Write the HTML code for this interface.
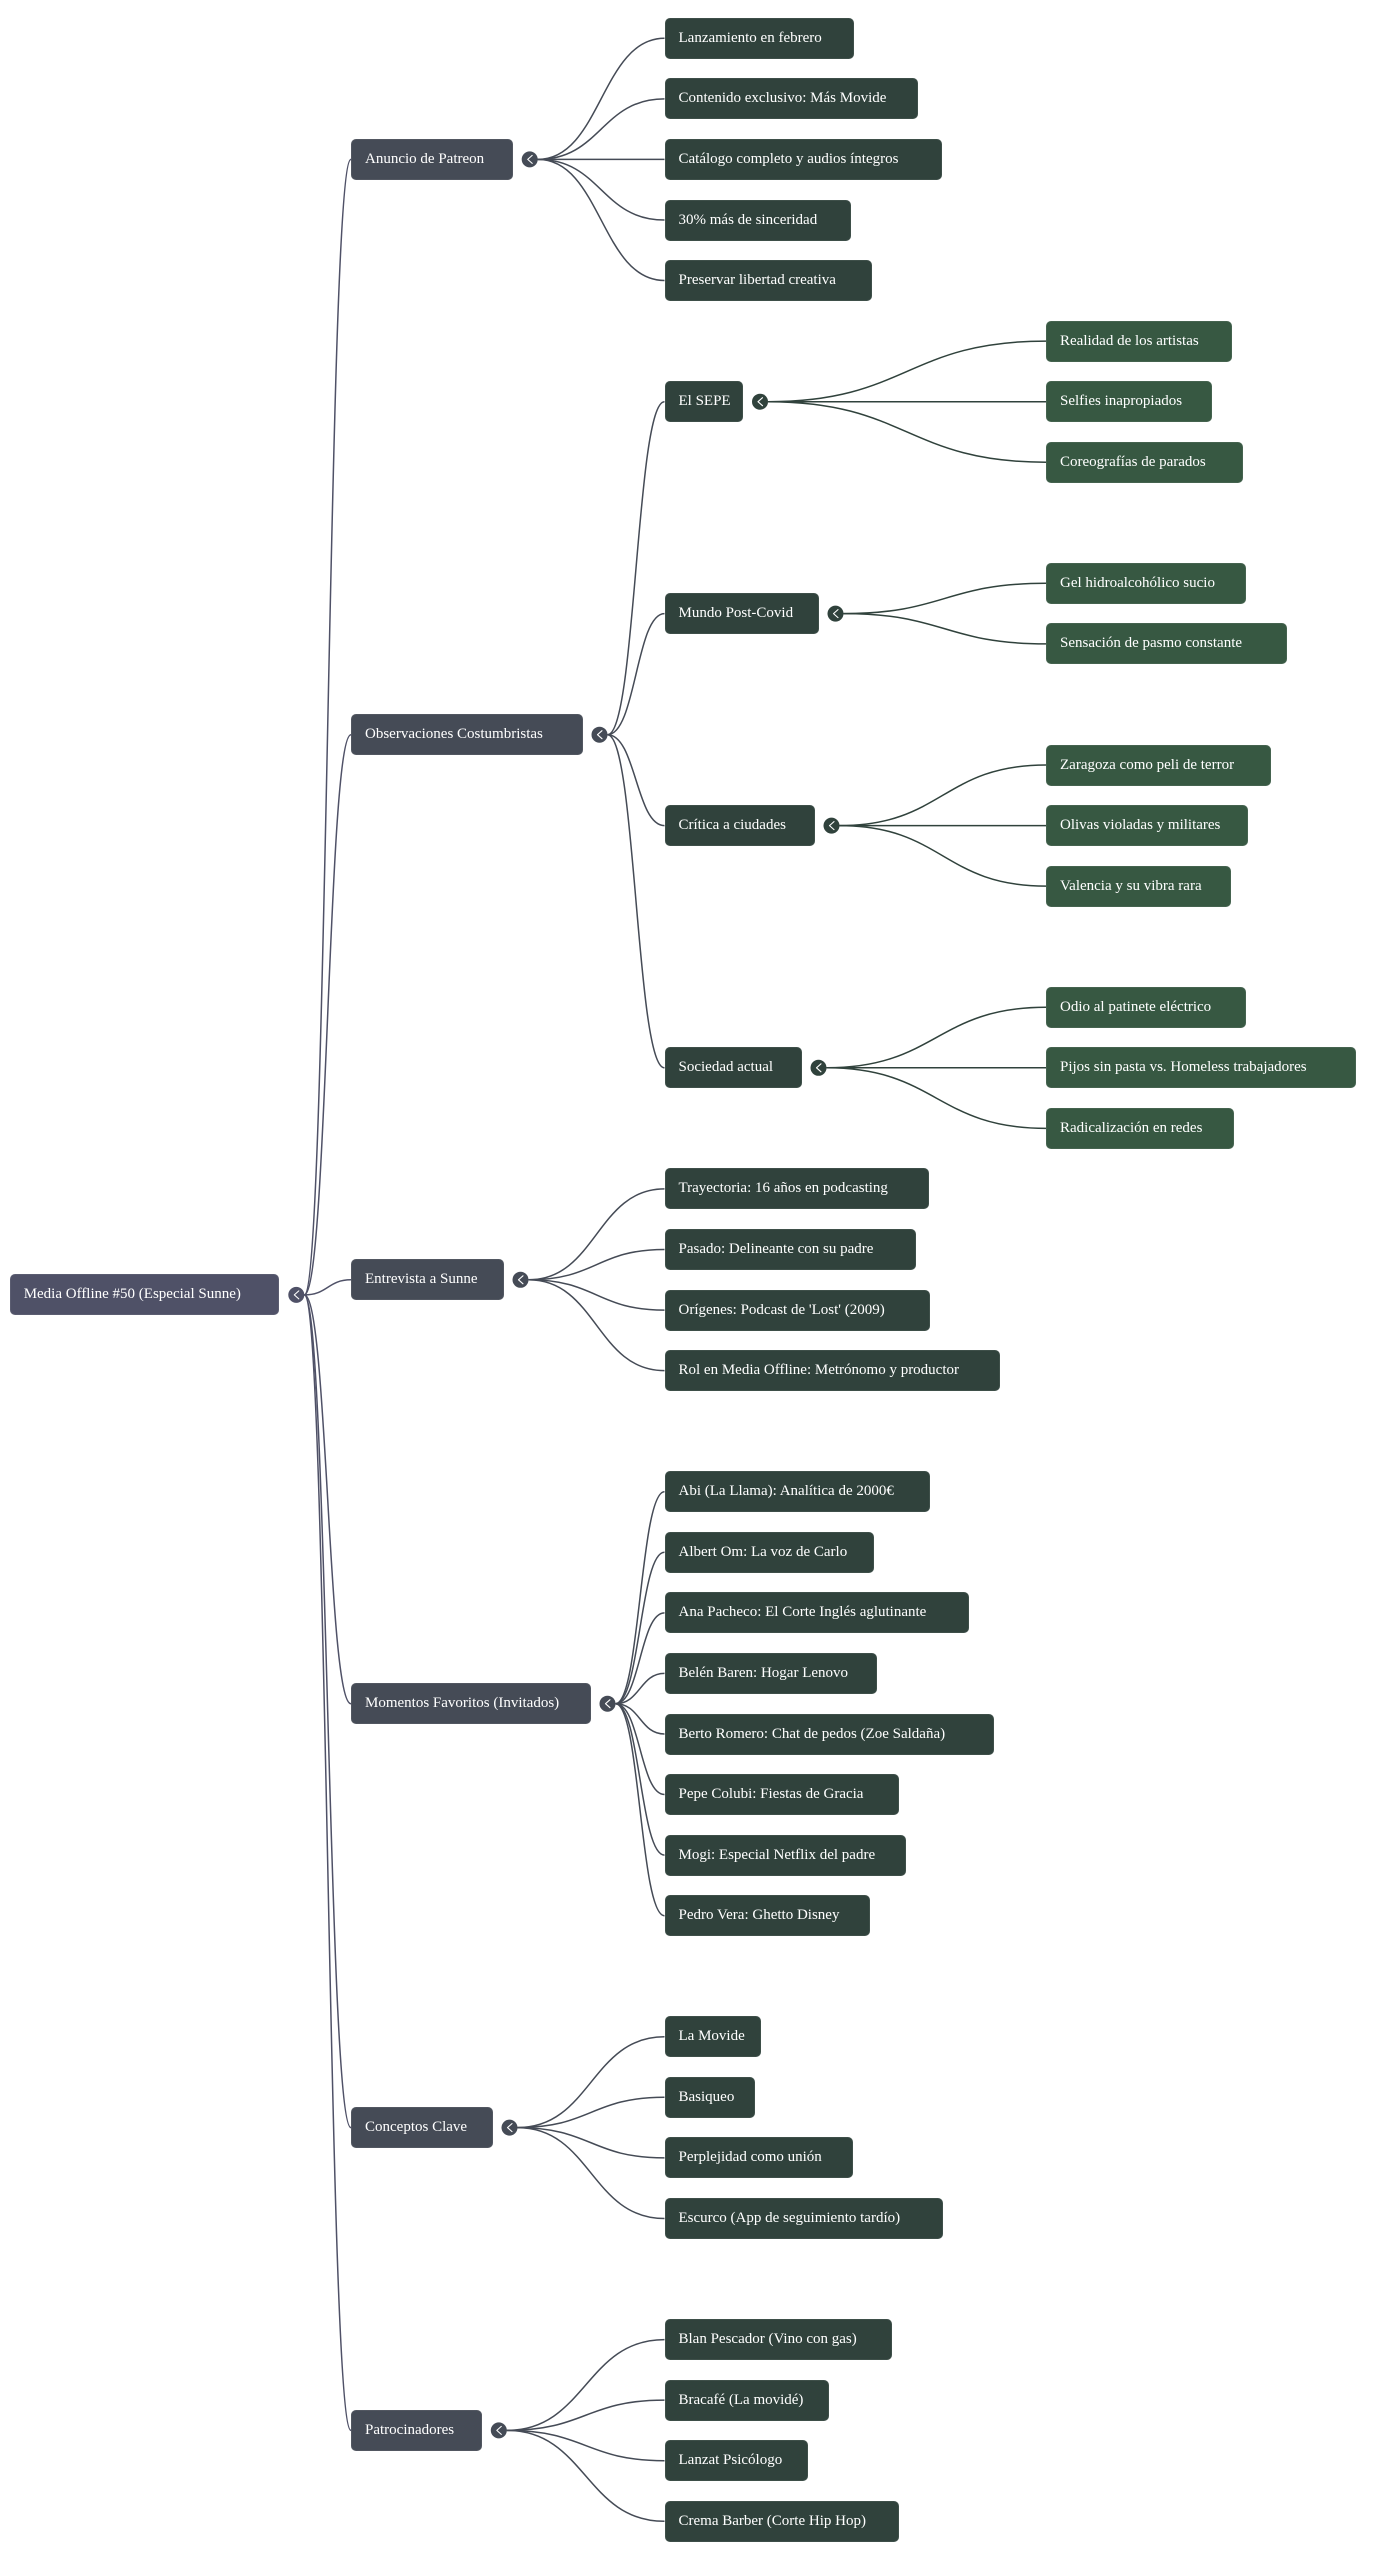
<!DOCTYPE html>
<html><head><meta charset="utf-8">
<style>
html,body{margin:0;padding:0;background:#fff;}
#w{position:relative;width:1391px;height:2560px;overflow:hidden;background:#fff;}
svg{position:absolute;left:0;top:0;}
.n{position:absolute;height:41px;border-radius:5px;color:#fff;font-family:"Liberation Serif",serif;font-size:15px;line-height:41px;padding-left:14px;box-sizing:border-box;white-space:nowrap;box-shadow:inset 0 0 0 1px rgba(255,255,255,0.07);}
.r{background:#4f5167;}
.a{background:#454b56;}
.b{background:#30423c;}
.g{background:#375842;}
</style></head><body><div id="w">
<svg width="1391" height="2560" viewBox="0 0 1391 2560">
<g fill="none" stroke-width="1.5">
<g stroke="#4f5167">
<path d="M304.3 1294.9 C327.7 1294.9 327.7 159.4 351 159.4"/>
<path d="M304.3 1294.9 C327.7 1294.9 327.7 734.7 351 734.7"/>
<path d="M304.3 1294.9 C327.7 1294.9 327.7 1279.8 351 1279.8"/>
<path d="M304.3 1294.9 C327.7 1294.9 327.7 1703.7 351 1703.7"/>
<path d="M304.3 1294.9 C327.7 1294.9 327.7 2127.6 351 2127.6"/>
<path d="M304.3 1294.9 C327.7 1294.9 327.7 2430.4 351 2430.4"/>
</g>
<g stroke="#454b56">
<path d="M537.7 159.4 C601.1 159.4 601.1 38.3 664.5 38.3"/>
<path d="M537.7 159.4 C601.1 159.4 601.1 98.9 664.5 98.9"/>
<path d="M537.7 159.4 C601.1 159.4 601.1 159.4 664.5 159.4"/>
<path d="M537.7 159.4 C601.1 159.4 601.1 220 664.5 220"/>
<path d="M537.7 159.4 C601.1 159.4 601.1 280.5 664.5 280.5"/>

<path d="M607.5 734.7 C636 734.7 636 401.7 664.5 401.7"/>
<path d="M607.5 734.7 C636 734.7 636 613.6 664.5 613.6"/>
<path d="M607.5 734.7 C636 734.7 636 825.6 664.5 825.6"/>
<path d="M607.5 734.7 C636 734.7 636 1067.8 664.5 1067.8"/>

<path d="M528.5 1279.8 C596.5 1279.8 596.5 1188.9 664.5 1188.9"/>
<path d="M528.5 1279.8 C596.5 1279.8 596.5 1249.5 664.5 1249.5"/>
<path d="M528.5 1279.8 C596.5 1279.8 596.5 1310.1 664.5 1310.1"/>
<path d="M528.5 1279.8 C596.5 1279.8 596.5 1370.6 664.5 1370.6"/>

<path d="M615.5 1703.7 C640 1703.7 640 1491.7 664.5 1491.7"/>
<path d="M615.5 1703.7 C640 1703.7 640 1552.3 664.5 1552.3"/>
<path d="M615.5 1703.7 C640 1703.7 640 1612.9 664.5 1612.9"/>
<path d="M615.5 1703.7 C640 1703.7 640 1673.4 664.5 1673.4"/>
<path d="M615.5 1703.7 C640 1703.7 640 1734 664.5 1734"/>
<path d="M615.5 1703.7 C640 1703.7 640 1794.5 664.5 1794.5"/>
<path d="M615.5 1703.7 C640 1703.7 640 1855.1 664.5 1855.1"/>
<path d="M615.5 1703.7 C640 1703.7 640 1915.7 664.5 1915.7"/>

<path d="M517.5 2127.6 C591 2127.6 591 2036.8 664.5 2036.8"/>
<path d="M517.5 2127.6 C591 2127.6 591 2097.3 664.5 2097.3"/>
<path d="M517.5 2127.6 C591 2127.6 591 2157.9 664.5 2157.9"/>
<path d="M517.5 2127.6 C591 2127.6 591 2218.5 664.5 2218.5"/>

<path d="M506.8 2430.4 C585.7 2430.4 585.7 2339.6 664.5 2339.6"/>
<path d="M506.8 2430.4 C585.7 2430.4 585.7 2400.1 664.5 2400.1"/>
<path d="M506.8 2430.4 C585.7 2430.4 585.7 2460.7 664.5 2460.7"/>
<path d="M506.8 2430.4 C585.7 2430.4 585.7 2521.3 664.5 2521.3"/>
</g>
<g stroke="#30423c">
<path d="M768 401.7 C907 401.7 907 341.1 1046 341.1"/>
<path d="M768 401.7 C907 401.7 907 401.7 1046 401.7"/>
<path d="M768 401.7 C907 401.7 907 462.2 1046 462.2"/>

<path d="M843.5 613.6 C944.8 613.6 944.8 583.3 1046 583.3"/>
<path d="M843.5 613.6 C944.8 613.6 944.8 643.9 1046 643.9"/>

<path d="M839.5 825.6 C942.8 825.6 942.8 765 1046 765"/>
<path d="M839.5 825.6 C942.8 825.6 942.8 825.6 1046 825.6"/>
<path d="M839.5 825.6 C942.8 825.6 942.8 886.1 1046 886.1"/>

<path d="M826.5 1067.8 C936.3 1067.8 936.3 1007.3 1046 1007.3"/>
<path d="M826.5 1067.8 C936.3 1067.8 936.3 1067.8 1046 1067.8"/>
<path d="M826.5 1067.8 C936.3 1067.8 936.3 1128.4 1046 1128.4"/>
</g>
</g>
<g>
<circle cx="296.3" cy="1294.9" r="8" fill="#4f5167"/>
<circle cx="529.7" cy="159.4" r="8" fill="#454b56"/>
<circle cx="599.5" cy="734.7" r="8" fill="#454b56"/>
<circle cx="520.5" cy="1279.8" r="8" fill="#454b56"/>
<circle cx="607.5" cy="1703.7" r="8" fill="#454b56"/>
<circle cx="509.5" cy="2127.6" r="8" fill="#454b56"/>
<circle cx="498.8" cy="2430.4" r="8" fill="#454b56"/>
<circle cx="760" cy="401.7" r="8" fill="#30423c"/>
<circle cx="835.5" cy="613.6" r="8" fill="#30423c"/>
<circle cx="831.5" cy="825.6" r="8" fill="#30423c"/>
<circle cx="818.5" cy="1067.8" r="8" fill="#30423c"/>
</g>
<g fill="none" stroke="#ffffff" stroke-width="1.1" stroke-linecap="round" stroke-linejoin="round">
<path d="M298.8 1290.9 L294.3 1294.9 L298.8 1298.9"/>
<path d="M532.2 155.4 L527.7 159.4 L532.2 163.4"/>
<path d="M602 730.7 L597.5 734.7 L602 738.7"/>
<path d="M523 1275.8 L518.5 1279.8 L523 1283.8"/>
<path d="M610 1699.7 L605.5 1703.7 L610 1707.7"/>
<path d="M512 2123.6 L507.5 2127.6 L512 2131.6"/>
<path d="M501.3 2426.4 L496.8 2430.4 L501.3 2434.4"/>
<path d="M762.5 397.7 L758 401.7 L762.5 405.7"/>
<path d="M838 609.6 L833.5 613.6 L838 617.6"/>
<path d="M834 821.6 L829.5 825.6 L834 829.6"/>
<path d="M821 1063.8 L816.5 1067.8 L821 1071.8"/>
</g>
</svg>

<div class="n r" style="left:9.7px;top:1274.4px;width:269.6px;">Media Offline #50 (Especial Sunne)</div>

<div class="n a" style="left:351px;top:138.9px;width:161.7px;">Anuncio de Patreon</div>
<div class="n a" style="left:351px;top:714.2px;width:231.5px;">Observaciones Costumbristas</div>
<div class="n a" style="left:351px;top:1259.3px;width:152.5px;">Entrevista a Sunne</div>
<div class="n a" style="left:351px;top:1683.2px;width:239.5px;">Momentos Favoritos (Invitados)</div>
<div class="n a" style="left:351px;top:2107.1px;width:141.5px;">Conceptos Clave</div>
<div class="n a" style="left:351px;top:2409.9px;width:130.8px;">Patrocinadores</div>

<div class="n b" style="left:664.5px;top:17.8px;width:189.5px;">Lanzamiento en febrero</div>
<div class="n b" style="left:664.5px;top:78.4px;width:253.5px;">Contenido exclusivo: Más Movide</div>
<div class="n b" style="left:664.5px;top:138.9px;width:277px;">Catálogo completo y audios íntegros</div>
<div class="n b" style="left:664.5px;top:199.5px;width:186.5px;">30% más de sinceridad</div>
<div class="n b" style="left:664.5px;top:260px;width:207px;">Preservar libertad creativa</div>
<div class="n b" style="left:664.5px;top:381.2px;width:78.5px;">El SEPE</div>
<div class="n b" style="left:664.5px;top:593.1px;width:154px;">Mundo Post-Covid</div>
<div class="n b" style="left:664.5px;top:805.1px;width:150px;">Crítica a ciudades</div>
<div class="n b" style="left:664.5px;top:1047.3px;width:137px;">Sociedad actual</div>
<div class="n b" style="left:664.5px;top:1168.4px;width:264.2px;">Trayectoria: 16 años en podcasting</div>
<div class="n b" style="left:664.5px;top:1229px;width:251.5px;">Pasado: Delineante con su padre</div>
<div class="n b" style="left:664.5px;top:1289.6px;width:265.8px;">Orígenes: Podcast de 'Lost' (2009)</div>
<div class="n b" style="left:664.5px;top:1350.1px;width:335.8px;">Rol en Media Offline: Metrónomo y productor</div>
<div class="n b" style="left:664.5px;top:1471.2px;width:265.8px;">Abi (La Llama): Analítica de 2000€</div>
<div class="n b" style="left:664.5px;top:1531.8px;width:209.8px;">Albert Om: La voz de Carlo</div>
<div class="n b" style="left:664.5px;top:1592.4px;width:304.2px;">Ana Pacheco: El Corte Inglés aglutinante</div>
<div class="n b" style="left:664.5px;top:1652.9px;width:212.8px;">Belén Baren: Hogar Lenovo</div>
<div class="n b" style="left:664.5px;top:1713.5px;width:329.2px;">Berto Romero: Chat de pedos (Zoe Saldaña)</div>
<div class="n b" style="left:664.5px;top:1774px;width:234.8px;">Pepe Colubi: Fiestas de Gracia</div>
<div class="n b" style="left:664.5px;top:1834.6px;width:241.5px;">Mogi: Especial Netflix del padre</div>
<div class="n b" style="left:664.5px;top:1895.2px;width:205.5px;">Pedro Vera: Ghetto Disney</div>
<div class="n b" style="left:664.5px;top:2016.3px;width:96px;">La Movide</div>
<div class="n b" style="left:664.5px;top:2076.8px;width:90px;">Basiqueo</div>
<div class="n b" style="left:664.5px;top:2137.4px;width:188px;">Perplejidad como unión</div>
<div class="n b" style="left:664.5px;top:2198px;width:278px;">Escurco (App de seguimiento tardío)</div>
<div class="n b" style="left:664.5px;top:2319.1px;width:227px;">Blan Pescador (Vino con gas)</div>
<div class="n b" style="left:664.5px;top:2379.6px;width:164px;">Bracafé (La movidé)</div>
<div class="n b" style="left:664.5px;top:2440.2px;width:143px;">Lanzat Psicólogo</div>
<div class="n b" style="left:664.5px;top:2500.8px;width:234px;">Crema Barber (Corte Hip Hop)</div>

<div class="n g" style="left:1046px;top:320.6px;width:186.3px;">Realidad de los artistas</div>
<div class="n g" style="left:1046px;top:381.2px;width:166.3px;">Selfies inapropiados</div>
<div class="n g" style="left:1046px;top:441.7px;width:197.3px;">Coreografías de parados</div>
<div class="n g" style="left:1046px;top:562.8px;width:199.7px;">Gel hidroalcohólico sucio</div>
<div class="n g" style="left:1046px;top:623.4px;width:241.3px;">Sensación de pasmo constante</div>
<div class="n g" style="left:1046px;top:744.5px;width:225.3px;">Zaragoza como peli de terror</div>
<div class="n g" style="left:1046px;top:805.1px;width:201.7px;">Olivas violadas y militares</div>
<div class="n g" style="left:1046px;top:865.6px;width:184.7px;">Valencia y su vibra rara</div>
<div class="n g" style="left:1046px;top:986.8px;width:199.7px;">Odio al patinete eléctrico</div>
<div class="n g" style="left:1046px;top:1047.3px;width:309.7px;">Pijos sin pasta vs. Homeless trabajadores</div>
<div class="n g" style="left:1046px;top:1107.9px;width:188.3px;">Radicalización en redes</div>
</div></body></html>
